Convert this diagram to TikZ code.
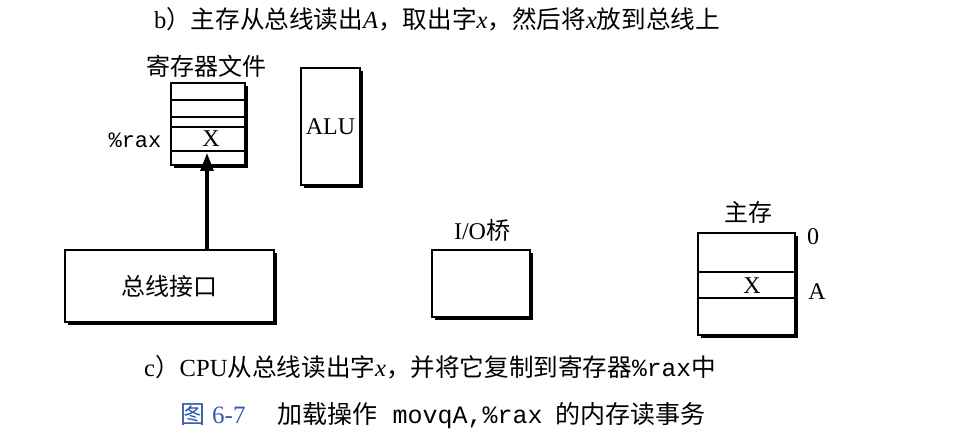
\documentclass[tikz,border=0pt]{standalone}
\usepackage{fontspec}
\setmainfont{Liberation Serif}
\setmonofont{Liberation Mono}
\newfontfamily\cjk{Noto Sans CJK SC}
\usetikzlibrary{arrows.meta,shadows}
\definecolor{figblue}{RGB}{50,90,170}

\begin{document}
\begin{tikzpicture}[x=0.5pt,y=-0.5pt,
    box/.style={draw, line width=0.6pt, fill=white, inner sep=0pt,
        general shadow={fill=black, shadow xshift=1.4pt, shadow yshift=-1.4pt}},
    lbl/.style={font=\fontsize{12}{14}\selectfont},
    captxt/.style={font=\fontsize{12.3}{14}\selectfont},
    mono/.style={font=\ttfamily\fontsize{11}{13}\selectfont}]
\useasboundingbox (0,0) rectangle (980,448);

% caption b
\node[captxt] (capb) at (437,19) {b{\cjk ）主存从总线读出}\textit{A}{\cjk ，取出字}\textit{x}{\cjk ，然后将}\textit{x}{\cjk 放到总线上}};

% register file
\node[box, minimum width=37pt, minimum height=41pt] (regfile) at (208,124) {};
\foreach \y in {100,117,127,151}
    \draw[line width=0.6pt] (regfile.west |- 0,\y) -- (regfile.east |- 0,\y);
\node[lbl] (regname) at (206,66) {\cjk 寄存器文件};
\node[mono] (raxname) at (135,140) {\%rax};
\node[lbl] (regx) at (211,139) {X};

% ALU
\node[box, minimum width=29.5pt, minimum height=58.5pt, lbl] (alu) at (330.5,126.5) {ALU};

% bus interface
\node[box, minimum width=104.5pt, minimum height=36pt, lbl] (busif) at (169.5,286) {\cjk 总线接口};
\coordinate (tip) at (207,153);
\draw[-{Triangle[length=9pt,width=6.5pt]}, line width=1.6pt] (busif.north -| tip) -- (tip);

% I/O bridge
\node[box, minimum width=49pt, minimum height=33.5pt] (iobr) at (481,283.5) {};
\node[lbl] (ioname) at (482,230) {I/O{\cjk 桥}};

% main memory
\node[box, minimum width=48.5pt, minimum height=51pt] (mem) at (746.5,284) {};
\foreach \y in {272,298}
    \draw[line width=0.6pt] (mem.west |- 0,\y) -- (mem.east |- 0,\y);
\node[lbl] (memname) at (748,212) {\cjk 主存};
\node[lbl] (memx) at (752,286) {X};
\node[lbl] (addr0) at (813,237) {0};
\node[lbl] (addrA) at (817,292) {A};

% caption c
\node[captxt] (capc) at (430,367) {c{\cjk ）}CPU{\cjk 从总线读出字}\textit{x}{\cjk ，并将它复制到寄存器}\texttt{\%rax}{\cjk 中}};

% figure caption
\node[font=\fontsize{12.5}{14}\selectfont] (figcap) at (443,416) {{\color{figblue}{\cjk 图} 6-7}\hspace{16pt}{\cjk 加载操作}\hspace{0.6em}\texttt{movqA,\%rax}\hspace{0.5em}{\cjk 的内存读事务}};
\end{tikzpicture}
\end{document}
